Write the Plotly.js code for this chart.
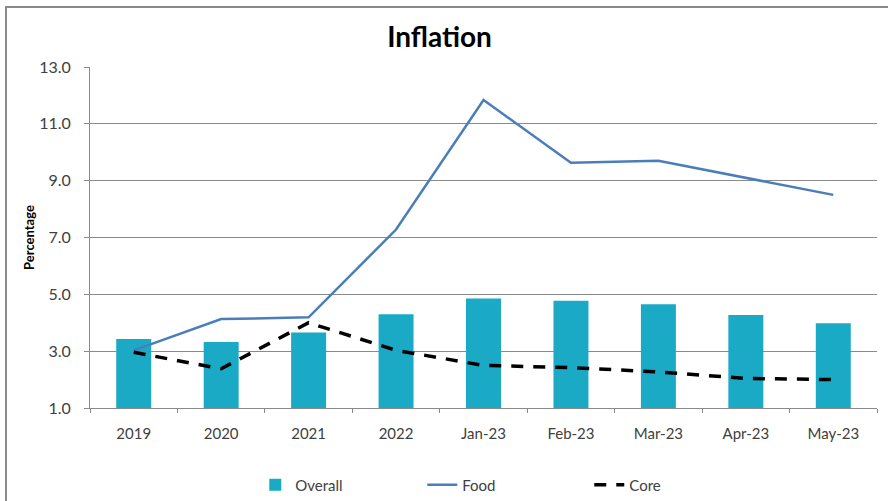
<!DOCTYPE html>
<html>
<head>
<meta charset="utf-8">
<script src="https://cdn.plot.ly/plotly-3.0.1.min.js"></script>
<style>
html,body{margin:0;padding:0;background:#fff;}
#wrap{position:absolute;left:0;top:0;width:888px;height:501px;overflow:hidden;}
#frame{position:absolute;left:5px;top:6px;width:900px;height:520px;border-left:2px solid #8a8a8a;border-top:2px solid #8a8a8a;pointer-events:none;z-index:5;}
#chart{position:absolute;left:0;top:0;width:888px;height:501px;}
</style>
</head>
<body>
<div id="wrap"><div id="chart"></div><div id="frame"></div></div>
<script>
const categories = ["2019","2020","2021","2022","Jan-23","Feb-23","Mar-23","Apr-23","May-23"];
const overall = [3.43, 3.32, 3.66, 4.30, 4.85, 4.77, 4.65, 4.27, 3.98];
const food    = [3.03, 4.13, 4.19, 7.28, 11.84, 9.63, 9.70, 9.10, 8.50];
const core    = [2.96, 2.38, 4.00, 3.03, 2.50, 2.42, 2.27, 2.04, 2.00];
const yTicks  = [1, 3, 5, 7, 9, 11, 13];
const yTickText = ["1.0","3.0","5.0","7.0","9.0","11.0","13.0"];

const font = "Lato, 'Open Sans', sans-serif";
const traces = [
  {type:"bar", name:"Overall", x:categories, y:overall, marker:{color:"#1AAAC6"}, width:0.4},
  {type:"scatter", mode:"lines", name:"Food", x:categories, y:food, line:{color:"#4A7EBB", width:2.5}},
  {type:"scatter", mode:"lines", name:"Core", x:categories, y:core, line:{color:"#000000", width:3.5, dash:"12px,10px"}}
];
const layout = {
  width:888, height:501,
  margin:{l:90, r:11, t:67, b:93, autoexpand:false},
  paper_bgcolor:"rgba(0,0,0,0)", plot_bgcolor:"#fff",
  font:{family:font, size:15, color:"#404040"},
  title:{text:"<b>Inflation</b>", x:0.495, xanchor:"center", y:0.925, yanchor:"middle", font:{family:font, size:28, color:"#000"}},
  xaxis:{type:"category", tickson:"boundaries", ticks:"outside", ticklen:4, tickcolor:"#8a8a8a",
         showline:true, linecolor:"#8a8a8a", linewidth:1, showgrid:false, tickfont:{size:15, color:"#404040"},
         ticklabelstandoff:12, automargin:false},
  yaxis:{range:[1,13], tickvals:yTicks, ticktext:yTickText, ticks:"outside", ticklen:5, tickcolor:"#8a8a8a",
         showline:true, linecolor:"#8a8a8a", linewidth:1, showgrid:true, gridcolor:"#8a8a8a", gridwidth:1,
         zeroline:false, tickfont:{size:16, color:"#404040"}, ticklabelstandoff:10, automargin:false,
         title:{text:"<b>Percentage</b>", font:{size:13, color:"#000"}, standoff:1}},
  legend:{orientation:"h", x:0.21, xanchor:"left", y:-0.226, yanchor:"middle", font:{size:15, color:"#404040"},
          entrywidth:122, entrywidthmode:"pixels", tracegroupgap:0},
  showlegend:true,
  bargap:0.6
};
Plotly.newPlot("chart", traces, layout, {displayModeBar:false, staticPlot:true});
</script>
</body>
</html>
